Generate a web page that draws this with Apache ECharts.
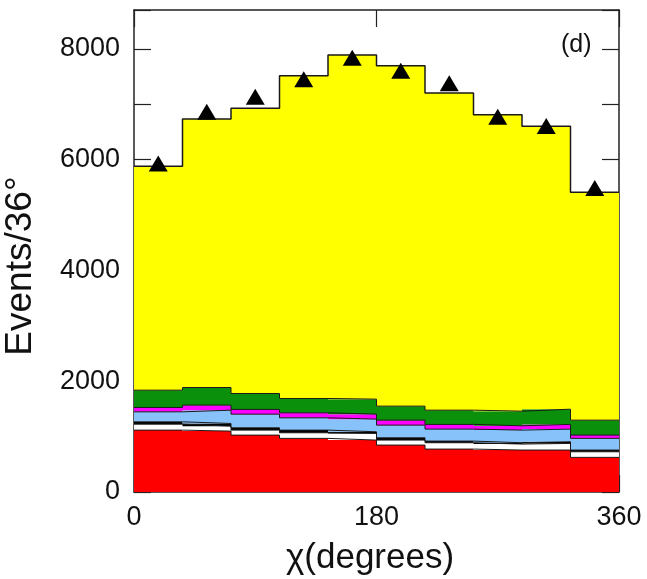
<!DOCTYPE html>
<html>
<head>
<meta charset="utf-8">
<script src="https://cdn.jsdelivr.net/npm/echarts@6/dist/echarts.min.js"></script>
<style>
  html, body { margin: 0; padding: 0; background: #fff; }
  #chart { width: 647px; height: 579px; }
</style>
</head>
<body>
<div id="chart"></div>
<script>
// Histogram bins (degrees): 10 bins of 36°
const binStarts = [0, 36, 72, 108, 144, 180, 216, 252, 288, 324];
const binWidth = 36;
const xTicks = [0, 180, 360];
const yLabelStep = 2000;

// Stacked contributions per bin, bottom to top
const redVals     = [1117, 1099, 1027, 968, 937, 847, 775, 757, 757, 625];
const whiteVals   = [108, 90, 90, 101, 120, 90, 114, 108, 120, 101];
const blackVals   = [42, 48, 42, 48, 30, 42, 30, 24, 30, 31];
const blueVals    = [180, 240, 246, 222, 228, 228, 216, 228, 228, 211];
const magentaVals = [79, 91, 85, 90, 90, 90, 85, 78, 85, 59];
const greenVals   = [312, 318, 288, 259, 271, 253, 257, 264, 275, 270];
const yellowVals  = [4042, 4847, 5147, 5826, 6210, 6144, 5724, 5352, 5105, 4114];

// Measured events per bin
const dataVals = [5928, 6865, 7135, 7450, 7838, 7604, 7378, 6775, 6604, 5486];

const layers = [
  { name: 'red', vals: redVals, color: '#ff0000' },
  { name: 'white', vals: whiteVals, color: '#ffffff' },
  { name: 'black', vals: blackVals, color: '#000000' },
  { name: 'blue', vals: blueVals, color: '#88c2fa' },
  { name: 'magenta', vals: magentaVals, color: '#ff00ff' },
  { name: 'green', vals: greenVals, color: '#0a900a' },
  { name: 'yellow', vals: yellowVals, color: '#ffff00' }
];

// running sums: lower and upper edge of each layer in each bin
const bounds = [];
let running = binStarts.map(() => 0);
layers.forEach((l) => {
  const lower = running.slice();
  const upper = running.map((v, i) => v + l.vals[i]);
  bounds.push({ lower, upper });
  running = upper;
});

// step outline points: left edge of each bin, plus closing point at the last right edge
function stepData(vals) {
  const pts = binStarts.map((x, i) => [x, vals[i]]);
  pts.push([binStarts[binStarts.length - 1] + binWidth, vals[vals.length - 1]]);
  return pts;
}

// polygon of one stacked layer: upper steps left→right, lower steps right→left
function layerPolygon(api, k) {
  const pts = [];
  const up = bounds[k].upper, lo = bounds[k].lower;
  binStarts.forEach((x, i) => {
    pts.push(api.coord([x, up[i]]));
    pts.push(api.coord([x + binWidth, up[i]]));
  });
  for (let i = binStarts.length - 1; i >= 0; i--) {
    const x = binStarts[i];
    pts.push(api.coord([x + binWidth, lo[i]]));
    pts.push(api.coord([x, lo[i]]));
  }
  return pts;
}

const FONT = 'Liberation Sans, Arial, Helvetica, sans-serif';
const frameColor = '#222';

const series = [{
  name: 'fills',
  type: 'custom',
  silent: true,
  z: 2,
  data: layers.map((l, k) => [binStarts[0], bounds[k].upper[0], k]),
  encode: { x: 0, y: 1 },
  renderItem: function (params, api) {
    const k = api.value(2);
    return {
      type: 'polygon',
      shape: { points: layerPolygon(api, k) },
      style: { fill: layers[k].color }
    };
  }
}];

layers.forEach((l, k) => {
  series.push({
    name: l.name + ' edge',
    type: 'line',
    step: 'end',
    symbol: 'none',
    silent: true,
    z: 5,
    data: stepData(bounds[k].upper),
    lineStyle: { color: '#1a1a1a', width: k === layers.length - 1 ? 1.5 : 1 }
  });
});

series.push({
  name: 'data',
  type: 'scatter',
  symbol: 'triangle',
  symbolSize: [19, 16],
  z: 10,
  itemStyle: { color: '#000', opacity: 1 },
  data: binStarts.map((x, i) => [x + binWidth / 2, dataVals[i]])
});

const axisLineStyle = { show: true, onZero: false, lineStyle: { color: frameColor, width: 1.5 } };
const tickStyle = { show: true, inside: true, length: 17, lineStyle: { color: frameColor, width: 1.2 } };

const chart = echarts.init(document.getElementById('chart'), null, { renderer: 'canvas' });
chart.setOption({
  backgroundColor: '#ffffff',
  animation: false,
  grid: { left: 134, right: 28, top: 10, bottom: 87, containLabel: false, outerBoundsMode: 'none' },
  xAxis: [
    {
      type: 'value', position: 'bottom', min: xTicks[0], max: xTicks[2], interval: xTicks[1] - xTicks[0],
      axisLine: axisLineStyle, axisTick: tickStyle,
      axisLabel: { fontFamily: FONT, fontSize: 27, color: '#111', margin: 12 },
      splitLine: { show: false }
    },
    {
      type: 'value', position: 'top', min: xTicks[0], max: xTicks[2], interval: xTicks[1] - xTicks[0],
      axisLine: axisLineStyle, axisTick: tickStyle,
      axisLabel: { show: false },
      splitLine: { show: false }
    }
  ],
  yAxis: [
    {
      type: 'value', position: 'left', min: 0, max: 8700, interval: 1000,
      axisLine: axisLineStyle, axisTick: tickStyle,
      axisLabel: {
        fontFamily: FONT, fontSize: 27, color: '#111', margin: 14,
        formatter: v => (v % yLabelStep === 0 ? String(v) : '')
      },
      splitLine: { show: false }
    },
    {
      type: 'value', position: 'right', min: 0, max: 8700, interval: 1000,
      axisLine: axisLineStyle, axisTick: tickStyle,
      axisLabel: { show: false },
      splitLine: { show: false }
    }
  ],
  graphic: [
    {
      type: 'text', left: 561, top: 33, z: 40,
      style: { text: '(d)', font: '25px ' + FONT, fill: '#111' }
    },
    {
      type: 'text', x: 370, y: 558, z: 40,
      style: { text: 'χ(degrees)', font: '35px ' + FONT, fill: '#111', align: 'center', verticalAlign: 'middle' }
    },
    {
      type: 'text', x: 21, y: 266, rotation: Math.PI / 2, z: 40,
      style: { text: 'Events/36°', font: '37px ' + FONT, fill: '#111', align: 'center', verticalAlign: 'middle' }
    }
  ],
  series: series
});
</script>
</body>
</html>
